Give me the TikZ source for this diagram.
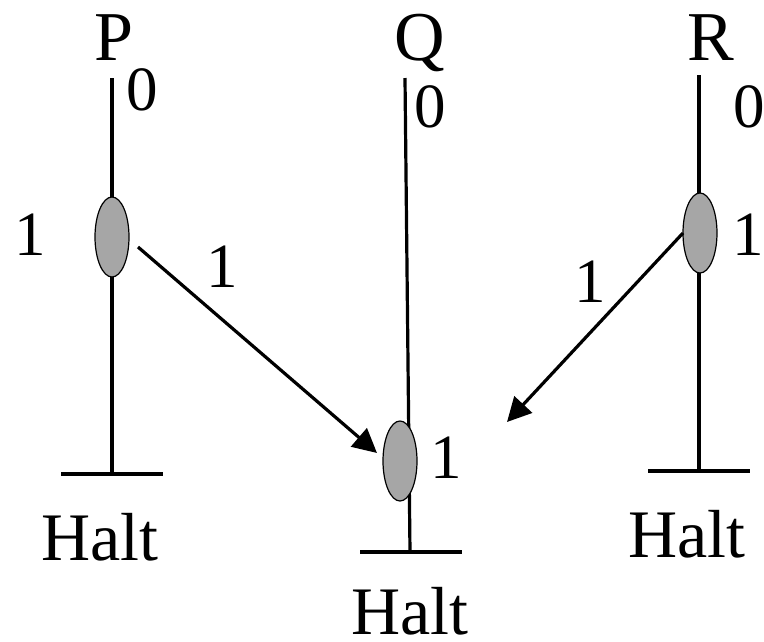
\documentclass[tikz,border=0pt]{standalone}
\usepackage{fontspec}
\setmainfont{Liberation Serif}
\usetikzlibrary{shapes.geometric,arrows.meta}
\tikzset{
  lbl/.style={anchor=base,inner sep=0pt,font=\fontsize{70}{80}\selectfont},
  dig/.style={anchor=base,inner sep=0pt,font=\fontsize{63}{72}\selectfont},
  halt/.style={anchor=base,inner sep=0pt,font=\fontsize{68}{78}\selectfont},
  proc/.style={line width=3.2pt},
  tok/.style={ellipse,draw,line width=1.2pt,fill=gray!70,minimum width=34pt,minimum height=80pt,inner sep=0pt},
  msg/.style={line width=3.2pt,-{Triangle[length=24pt,width=24pt]}}
}
\begin{document}
\begin{tikzpicture}[x=1pt,y=-1pt]
\useasboundingbox (0,0) rectangle (764,641);
% process lines
\coordinate (pt) at (112,78);
\coordinate (pb) at (112,474);
\coordinate (qt) at (405,78);
\coordinate (qb) at (410,552);
\coordinate (rt) at (699,75);
\coordinate (rb) at (699,471);
\draw[proc] (pt) -- (pb);
\draw[proc] (qt) -- (qb);
\draw[proc] (rt) -- (rb);
% halt bars
\coordinate (phl) at (61,474);  \coordinate (phr) at (163,474);
\coordinate (qhl) at (360,552); \coordinate (qhr) at (462,552);
\coordinate (rhl) at (648,471); \coordinate (rhr) at (750,471);
\draw[proc] (phl) -- (phr);
\draw[proc] (qhl) -- (qhr);
\draw[proc] (rhl) -- (rhr);
% ellipses
\node[tok] (pe) at (112,237) {};
\node[tok] (qe) at (400,461) {};
\node[tok] (re) at (700,233) {};
% arrows
\coordinate (ps) at (138,247);
\coordinate (qend) at (377,453);
\coordinate (rs) at (683,233);
\coordinate (rend) at (507,422);
\draw[msg] (ps) -- (qend);
\draw[msg] (rs) -- (rend);
% labels
\node[lbl] (lP) at (114,60) {P};
\node[lbl] (lQ) at (420,60) {Q};
\node[lbl] (lR) at (711,60) {R};
\node[dig] (p0) at (142,110) {0};
\node[dig] (q0) at (430,127) {0};
\node[dig] (r0) at (749,127) {0};
\node[dig] (p1) at (30,255) {1};
\node[dig] (pm1) at (222,287) {1};
\node[dig] (q1) at (446,478) {1};
\node[dig] (r1) at (748,255) {1};
\node[dig] (rm1) at (590,302) {1};
\node[halt] (ph) at (100,560) {Halt};
\node[halt] (qh) at (410,634) {Halt};
\node[halt] (rh) at (687,557) {Halt};
\end{tikzpicture}
\end{document}
